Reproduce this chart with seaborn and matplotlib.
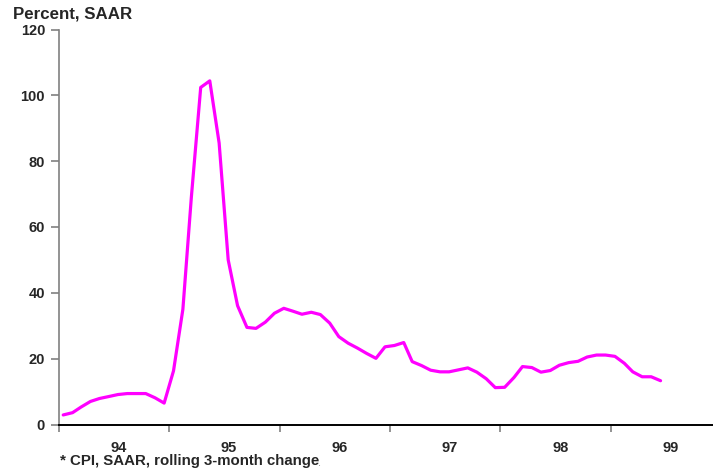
import matplotlib
matplotlib.use("Agg")
import matplotlib.pyplot as plt
import pandas as pd
import seaborn as sns

# Monthly CPI inflation, seasonally adjusted annual rate (rolling 3-month change)
months = pd.date_range("1994-01-01", "1999-06-01", freq="MS") + pd.Timedelta(days=14)
cpi_saar = [
    2.9, 3.6, 5.3, 7.0, 7.9, 8.5, 9.1, 9.4, 9.4, 9.4, 8.1, 6.5,          # 1994
    16.3, 35.0, 69.0, 102.4, 104.4, 85.5, 50.0, 36.1, 29.5, 29.2, 31.1, 33.8,  # 1995
    35.3, 34.4, 33.5, 34.1, 33.4, 30.8, 26.7, 24.7, 23.2, 21.6, 20.1, 23.6,  # 1996
    24.0, 24.9, 19.1, 17.9, 16.5, 16.0, 16.0, 16.6, 17.2, 15.9, 13.9, 11.2,  # 1997
    11.3, 14.3, 17.6, 17.3, 15.9, 16.4, 18.0, 18.8, 19.2, 20.5, 21.1, 21.1,  # 1998
    20.7, 18.6, 16.0, 14.5, 14.5, 13.3,                                      # 1999
]
year_labels = ["94", "95", "96", "97", "98", "99"]
y_ticks = [0, 20, 40, 60, 80, 100, 120]

df = pd.DataFrame({"date": months, "cpi": cpi_saar})

sns.set_theme(style="white")
plt.rcParams["font.family"] = ["Liberation Sans", "DejaVu Sans"]

fig = plt.figure(figsize=(7.13, 4.71), dpi=100)
ax = fig.add_axes([59 / 713, 46.5 / 471, 662 / 713, 395 / 471])

sns.lineplot(data=df, x="date", y="cpi", color="#FF00FF", linewidth=2.3, ax=ax)

ax.set_xlim(pd.Timestamp("1994-01-01"), pd.Timestamp("2000-01-01"))
ax.set_ylim(0, 120)
ax.set_xlabel("")
ax.set_ylabel("")

# Year boundaries get tick marks; year names sit between them
year_starts = [pd.Timestamp(f"{1994 + k}-01-01") for k in range(len(year_labels) + 1)]
year_mids = [pd.Timestamp(f"{1994 + k}-07-18") for k in range(len(year_labels))]
ax.set_xticks(year_starts)
ax.set_xticklabels([""] * len(year_starts))
ax.set_xticks(year_mids, minor=True)
ax.set_xticklabels(year_labels, minor=True, fontsize=10.5, fontweight="bold")
ax.tick_params(axis="x", which="major", direction="out", length=5, width=1.2,
               color="#808080", bottom=True)
ax.tick_params(axis="x", which="minor", length=0, pad=12, bottom=True)

ax.set_yticks(y_ticks)
ax.set_yticklabels([str(v) for v in y_ticks], fontsize=10.5, fontweight="bold")
ax.tick_params(axis="y", direction="out", length=6, width=1.2, color="#808080",
               left=True, pad=4)

for side in ["top", "right"]:
    ax.spines[side].set_visible(False)
ax.spines["left"].set_color("#808080")
ax.spines["left"].set_linewidth(1.2)
ax.spines["bottom"].set_color("black")
ax.spines["bottom"].set_linewidth(1.4)
ax.grid(False)

fig.text(13 / 713, 1 - 14 / 471, "Percent, SAAR", fontsize=12.2, fontweight="bold",
         va="center", ha="left")
fig.text(60 / 713, 1 - 461 / 471, "* CPI, SAAR, rolling 3-month change",
         fontsize=10.8, fontweight="bold", va="center", ha="left")
fig.text(318 / 713, 1 - 463 / 471, ".", fontsize=8, color="#888888",
         va="center", ha="left")

fig.savefig("out.png", dpi=100)
